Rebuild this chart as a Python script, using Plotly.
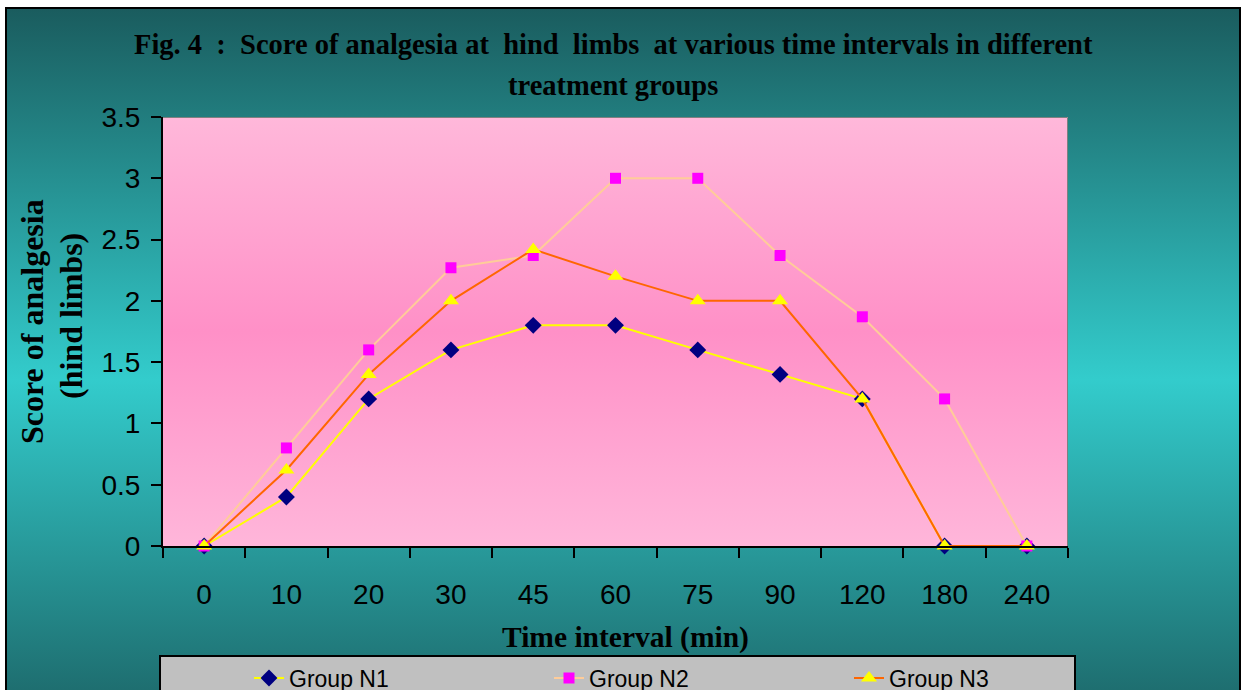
import base64
import plotly.graph_objects as go

# ---- data ----
time_labels = ["0", "10", "20", "30", "45", "60", "75", "90", "120", "180", "240"]
group_n1 = [0, 0.4, 1.2, 1.6, 1.8, 1.8, 1.6, 1.4, 1.2, 0, 0]
group_n2 = [0, 0.8, 1.6, 2.27, 2.37, 3.0, 3.0, 2.37, 1.87, 1.2, 0]
group_n3 = [0, 0.62, 1.4, 2.0, 2.42, 2.2, 2.0, 2.0, 1.2, 0, 0]
y_ticks = [0, 0.5, 1, 1.5, 2, 2.5, 3, 3.5]

W, H = 1247, 690
L, R, T, B = 163, 1068, 117, 546  # plot area pixel bounds
PW, PH = R - L, B - T


def px_x(p):
    return (p - L) / PW


def px_y(p):
    return (B - p) / PH


def svg_uri(svg):
    return "data:image/svg+xml;base64," + base64.b64encode(svg.encode()).decode()


frame_top, frame_bot, frame_l, frame_r = 7, 752, 5, 1241
fw, fh = frame_r - frame_l, frame_bot - frame_top
frame_svg = f'''<svg xmlns="http://www.w3.org/2000/svg" width="{fw}" height="{fh}" viewBox="0 0 {fw} {fh}" preserveAspectRatio="none">
<defs><linearGradient id="g" x1="0" y1="0" x2="0" y2="1">
<stop offset="0" stop-color="#1a5c5e"/>
<stop offset="0.5" stop-color="#33cccc"/>
<stop offset="1" stop-color="#1a5c5e"/>
</linearGradient></defs>
<rect x="1" y="1" width="{fw-2}" height="{fh-2}" fill="url(#g)" stroke="#000" stroke-width="2"/>
</svg>'''

pink_svg = f'''<svg xmlns="http://www.w3.org/2000/svg" width="{PW}" height="{PH}" viewBox="0 0 {PW} {PH}" preserveAspectRatio="none">
<defs><linearGradient id="p" x1="0" y1="0" x2="0" y2="1">
<stop offset="0" stop-color="#ffb8da"/>
<stop offset="0.5" stop-color="#ff90c7"/>
<stop offset="1" stop-color="#ffb6da"/>
</linearGradient></defs>
<rect x="0" y="0" width="{PW}" height="{PH}" fill="url(#p)"/>
<path d="M0 0.5 H{PW-0.5} V{PH}" fill="none" stroke="#808080" stroke-width="1"/>
</svg>'''

fig = go.Figure()

fig.add_trace(go.Scatter(
    x=time_labels, y=group_n1, name="Group N1", mode="lines+markers",
    line=dict(color="#ffff00", width=2),
    marker=dict(symbol="diamond", size=13, color="#000080"),
    cliponaxis=False,
))
fig.add_trace(go.Scatter(
    x=time_labels, y=group_n2, name="Group N2", mode="lines+markers",
    line=dict(color="#ffcc99", width=2),
    marker=dict(symbol="square", size=11, color="#ff00ff"),
    cliponaxis=False,
))
fig.add_trace(go.Scatter(
    x=time_labels, y=group_n3, name="Group N3", mode="lines+markers",
    line=dict(color="#ff6600", width=2),
    marker=dict(symbol="triangle-up", size=14, color="#ffff00"),
    cliponaxis=False,
))

sans = "Liberation Sans, Arial, sans-serif"
serif = "Liberation Serif, Times New Roman, serif"
tick_font = dict(family=sans, size=28, color="#000")

fig.update_xaxes(
    type="category", range=[-0.5, 10.5], showgrid=False, zeroline=False,
    showline=True, linecolor="#000", linewidth=2,
    ticks="outside", ticklen=10, tickwidth=2, tickcolor="#000", tickson="boundaries",
    tickfont=tick_font, ticklabelstandoff=22,
)
fig.update_yaxes(
    range=[0, 3.5], tickvals=y_ticks, ticktext=[f"{v:g}" for v in y_ticks],
    showgrid=False, zeroline=False,
    showline=True, linecolor="#000", linewidth=2,
    ticks="outside", ticklen=10, tickwidth=2, tickcolor="#000",
    tickfont=tick_font, ticklabelstandoff=5,
)

fig.update_layout(
    width=W, height=H,
    margin=dict(l=L, r=W - R, t=T, b=H - B, pad=0, autoexpand=False),
    paper_bgcolor="#ffffff", plot_bgcolor="rgba(0,0,0,0)",
    showlegend=True,
    legend=dict(
        orientation="h", x=px_x(249), xanchor="left", y=px_y(678), yanchor="middle",
        bgcolor="rgba(0,0,0,0)", borderwidth=0,
        entrywidth=255, entrywidthmode="pixels",
        font=dict(family=sans, size=23, color="#000"),
    ),
    images=[
        dict(source=svg_uri(frame_svg), xref="paper", yref="paper",
             x=px_x(frame_l), y=px_y(frame_top), sizex=fw / PW, sizey=fh / PH,
             xanchor="left", yanchor="top", sizing="stretch", layer="below"),
        dict(source=svg_uri(pink_svg), xref="paper", yref="paper",
             x=0, y=1, sizex=1, sizey=1,
             xanchor="left", yanchor="top", sizing="stretch", layer="below"),
    ],
    shapes=[
        dict(type="rect", xref="paper", yref="paper",
             x0=px_x(160), x1=px_x(1075), y0=px_y(720), y1=px_y(656),
             fillcolor="#c0c0c0", line=dict(color="#000", width=2), layer="below"),
    ],
    annotations=[
        dict(text="<b>Fig. 4  :  Score of analgesia at  hind  limbs  at various time intervals in different</b>",
             xref="paper", yref="paper", x=px_x(613), y=px_y(44), xanchor="center", yanchor="middle",
             showarrow=False, font=dict(family=serif, size=28.5, color="#000")),
        dict(text="<b>treatment groups</b>",
             xref="paper", yref="paper", x=px_x(613), y=px_y(86), xanchor="center", yanchor="middle",
             showarrow=False, font=dict(family=serif, size=28.5, color="#000")),
        dict(text="<b>Score of analgesia</b>", textangle=-90,
             xref="paper", yref="paper", x=px_x(32), y=px_y(322), xanchor="center", yanchor="middle",
             showarrow=False, font=dict(family=serif, size=32, color="#000")),
        dict(text="<b>(hind limbs)</b>", textangle=-90,
             xref="paper", yref="paper", x=px_x(71), y=px_y(316), xanchor="center", yanchor="middle",
             showarrow=False, font=dict(family=serif, size=32, color="#000")),
        dict(text="<b>Time interval (min)</b>",
             xref="paper", yref="paper", x=px_x(625), y=px_y(637), xanchor="center", yanchor="middle",
             showarrow=False, font=dict(family=serif, size=29.5, color="#000")),
    ],
)

fig.write_html("out.html")
